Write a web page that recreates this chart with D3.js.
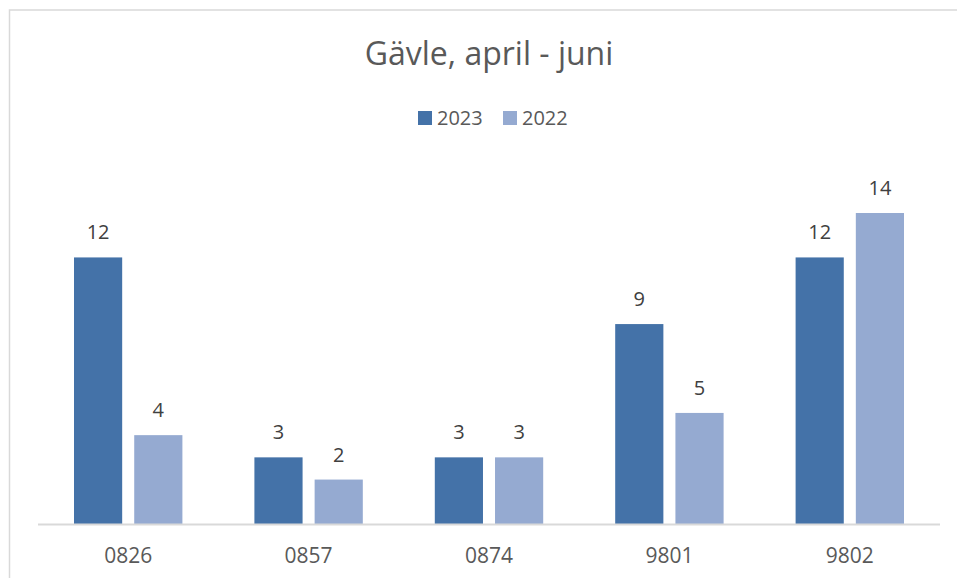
<!DOCTYPE html>
<html>
  <head>
    <title>Gävle, april - juni</title>
    <meta charset="utf-8" />
    <script src="https://d3js.org/d3.v7.min.js"></script>
    <style>
      body { margin: 0; background: #fff; }
      text { font-family: "Open Sans", sans-serif; }
    </style>
  </head>
  <body>
    <script>
      // chart data
      const categories = ["0826", "0857", "0874", "9801", "9802"];
      const seriesNames = ["2023", "2022"];
      const values2023 = [12, 3, 3, 9, 12];
      const values2022 = [4, 2, 3, 5, 14];
      const colors = ["#4472a8", "#95aad1"];

      const width = 957, height = 578;
      const plot = { left: 38, right: 940, bottom: 524 };

      const svg = d3.select("body").append("svg")
        .attr("width", width)
        .attr("height", height);

      // border (top + left only visible)
      svg.append("path")
        .attr("d", `M9.5,${height} V10 H${width}`)
        .attr("fill", "none")
        .attr("stroke", "#d9d9d9")
        .attr("stroke-width", 1.5);

      const x = d3.scaleBand()
        .domain(categories)
        .range([plot.left, plot.right])
        .paddingInner(0)
        .paddingOuter(0);

      const inner = d3.scaleBand()
        .domain(seriesNames)
        .range([36, x.bandwidth() - 36])
        .paddingInner(0.2);

      const y = d3.scaleLinear()
        .domain([0, 14])
        .range([plot.bottom, 213]);

      const rows = categories.map((c, i) => ({
        cat: c,
        vals: [
          { key: "2023", v: values2023[i], color: colors[0] },
          { key: "2022", v: values2022[i], color: colors[1] }
        ]
      }));

      const groups = svg.selectAll(".grp")
        .data(rows)
        .join("g")
        .attr("class", "grp")
        .attr("transform", d => `translate(${x(d.cat)},0)`);

      groups.selectAll("rect")
        .data(d => d.vals)
        .join("rect")
        .attr("x", d => inner(d.key))
        .attr("width", inner.bandwidth())
        .attr("y", d => y(d.v))
        .attr("height", d => y(0) - y(d.v))
        .attr("fill", d => d.color);

      groups.selectAll(".lbl")
        .data(d => d.vals)
        .join("text")
        .attr("class", "lbl")
        .attr("x", d => inner(d.key) + inner.bandwidth() / 2)
        .attr("y", d => y(d.v) - 18)
        .attr("text-anchor", "middle")
        .attr("font-size", 20)
        .attr("fill", "#404040")
        .text(d => d.v);

      // x axis line
      svg.append("line")
        .attr("x1", plot.left).attr("x2", plot.right)
        .attr("y1", plot.bottom + 0.5).attr("y2", plot.bottom + 0.5)
        .attr("stroke", "#d9d9d9")
        .attr("stroke-width", 2);

      svg.selectAll(".xlab")
        .data(categories)
        .join("text")
        .attr("class", "xlab")
        .attr("x", d => x(d) + x.bandwidth() / 2)
        .attr("y", 563)
        .attr("text-anchor", "middle")
        .attr("font-size", 21)
        .attr("fill", "#595959")
        .text(d => d);

      // title
      svg.append("text")
        .attr("x", 489)
        .attr("y", 65)
        .attr("text-anchor", "middle")
        .attr("font-size", 32)
        .attr("fill", "#595959")
        .text("Gävle, april - juni");

      // legend
      const legX = [418, 503];
      const leg = svg.selectAll(".leg")
        .data(seriesNames)
        .join("g")
        .attr("class", "leg")
        .attr("transform", (d, i) => `translate(${legX[i]},111)`);
      leg.append("rect")
        .attr("width", 14).attr("height", 14)
        .attr("fill", (d, i) => colors[i]);
      leg.append("text")
        .attr("x", 19).attr("y", 14)
        .attr("font-size", 20)
        .attr("fill", "#595959")
        .text(d => d);
    </script>
  </body>
</html>
